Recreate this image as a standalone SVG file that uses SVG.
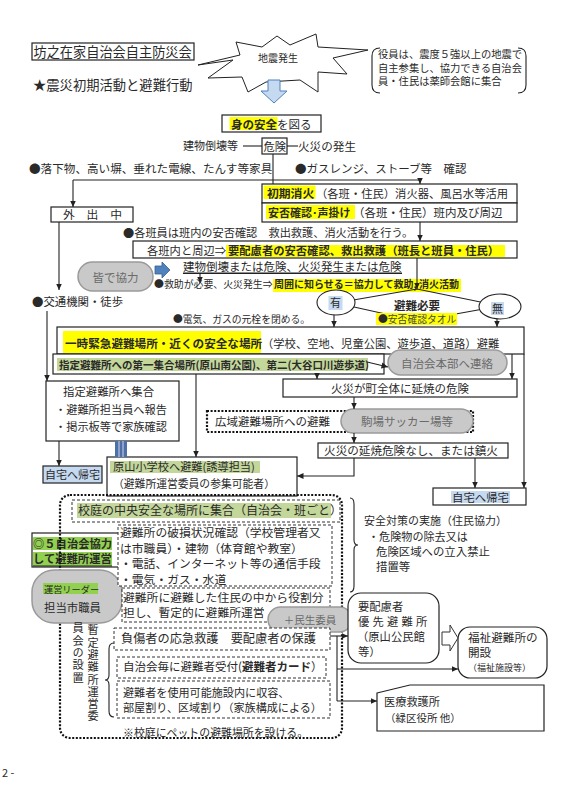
<svg xmlns="http://www.w3.org/2000/svg" width="570" height="799" viewBox="0 0 570 799">
<defs>
<style>
text { font-family: "Noto Sans CJK JP", "Noto Sans CJK SC", sans-serif; fill: #2a2a2a; }
.b { font-weight: bold; }
.gt { fill: #6a6a6a; }
.vt { writing-mode: vertical-rl; }
.box { fill: #fff; stroke: #222; stroke-width: 1.2; }
.dash { fill: #fff; stroke: #333; stroke-width: 1; stroke-dasharray: 3 2; }
.dot { fill: none; stroke: #111; stroke-width: 2.2; stroke-dasharray: 2 1.6; }
.pill { fill: #c9c9c9; stroke: #9a9a9a; stroke-width: 1.5; }
.ln { stroke: #222; stroke-width: 1.1; fill: none; }
.arr { marker-end: url(#ah); }
.yl { fill: #ffff00; }
.gr { fill: #c4d79b; }
.gg { fill: #92d050; }
.bl { fill: #c5d9f1; }
</style>
<marker id="ah" markerWidth="7" markerHeight="7" refX="6.5" refY="3.5" orient="auto" markerUnits="userSpaceOnUse">
<path d="M0,0.5 L6.5,3.5 L0,6.5 z" fill="#222"/>
</marker>
</defs>
<rect width="570" height="799" fill="#fff"/>

<g id="title">
<rect x="32" y="43" width="162" height="17" fill="#fff" stroke="#222" stroke-width="1.2"/>
<text x="33.5" y="56.5" font-size="13.2">坊之在家自治会自主防災会</text>
<text x="33" y="90" font-size="13.3">★震災初期活動と避難行動</text>
</g>

<g id="quake">
<polygon points="198,65 233,60 208,78 242,77 248,92 266,82 300,80 318,92 318,72 347,74 333,58 368,50 318,47 316,34 290,45 277,36 262,47 236,42 240,55" fill="#fff" stroke="#222" stroke-width="1"/>
<text x="258" y="62" font-size="10">地震発生</text>
<polygon points="268,80 280,80 280,91 287,91 274,103 261,91 268,91" fill="#c5d9f1" stroke="#4f81bd" stroke-width="1"/>
</g>

<g id="callout">
<path d="M380,48 Q372,48 372,56 L372,85 Q372,93 380,93" class="ln" stroke-width="1.3"/>
<path d="M518,48 Q526,48 526,56 L526,85 Q526,93 518,93" class="ln" stroke-width="1.3"/>
<text x="378" y="58" font-size="10.3">役員は、震度５強以上の地震で</text>
<text x="378" y="71.5" font-size="10.3">自主参集し、協力できる自治会</text>
<text x="378" y="85" font-size="10.3">員・住民は薬師会館に集合</text>
</g>

<g id="n-safety">
<rect x="222" y="115" width="99" height="17" class="box"/>
<rect x="229.5" y="117" width="48" height="13" class="yl"/>
<text x="231" y="128.5" font-size="11.5" class="b">身の安全<tspan font-weight="normal">を図る</tspan></text>
</g>

<g id="n-danger">
<text x="183" y="150" font-size="11">建物倒壊等</text>
<rect x="262" y="138" width="25" height="16" class="box"/>
<text x="263.5" y="150.5" font-size="11.3">危険</text>
<text x="298" y="150.5" font-size="11.6">火災の発生</text>
</g>

<g id="notes-top">
<text x="29" y="172.5" font-size="11.6">●落下物、高い塀、垂れた電線、たんす等家具</text>
<text x="295" y="172.5" font-size="11.5">●ガスレンジ、ストーブ等　確認</text>
</g>

<g id="n-firstaid">
<rect x="262" y="184" width="255" height="19" class="box"/>
<rect x="262" y="203" width="255" height="19" class="box"/>
<rect x="263.5" y="185.5" width="52" height="13.5" class="yl"/>
<text x="267" y="197.5" font-size="11.8" class="b">初期消火</text>
<text x="316" y="197.5" font-size="11.3">（各班・住民）消火器、風呂水等活用</text>
<rect x="266" y="205" width="89" height="14" class="yl"/>
<text x="268" y="216.5" font-size="11" class="b">安否確認･声掛け</text>
<text x="353" y="216.5" font-size="11.5">（各班・住民）班内及び周辺</text>
</g>

<g id="n-out">
<rect x="51" y="207" width="82" height="15" class="box"/>
<text x="63" y="219" font-size="11.8">外　出　中</text>
</g>

<text x="123" y="236.5" font-size="11.2">●各班員は班内の安否確認　救出救護、消火活動を行う。</text>

<g id="n-care">
<rect x="133" y="241" width="384" height="17" class="box"/>
<rect x="226" y="245" width="279" height="12" class="yl"/>
<text x="147" y="254.5" font-size="11.3">各班内と周辺⇒</text>
<text x="228" y="254.5" font-size="11.3" class="b">要配慮者の安否確認、救出救護（班長と班員・住民）</text>
</g>

<g id="n-coop">
<rect x="78" y="262" width="75" height="29" rx="14.5" class="pill"/>
<text x="115.5" y="281.5" font-size="11.5" text-anchor="middle" class="gt">皆で協力</text>
<polygon points="155,266 162,266 162,262 170,270 162,278 162,274 155,274" fill="#4f81bd" stroke="#385d8a" stroke-width="0.8"/>
</g>

<g id="notes-mid">
<text x="183" y="270.5" font-size="11.5">建物倒壊または危険、火災発生または危険</text>
<line x1="183" y1="273.2" x2="402" y2="273.2" stroke="#222" stroke-width="1.6"/>
<text x="154" y="287.5" font-size="9.9">●救助が必要、火災発生⇒</text>
<rect x="273" y="279" width="188" height="13" class="yl"/>
<text x="274" y="288" font-size="10" class="b">周囲に知らせる＝協力して救助, 消火活動</text>
<text x="173" y="322.5" font-size="9.8">●電気、ガスの元栓を閉める。</text>
<text x="32" y="306" font-size="11.4">●交通機関・徒歩</text>
</g>

<g id="n-decision">
<polygon points="336,303 417,289 500,306 417,321" class="ln"/>
<ellipse cx="336" cy="302.5" rx="19" ry="12.5" fill="#fff" stroke="#222" stroke-width="1.1"/>
<ellipse cx="500" cy="306.5" rx="21" ry="12.5" fill="#fff" stroke="#222" stroke-width="1.1"/>
<rect x="328.5" y="296" width="14" height="14" class="bl"/>
<text x="335.5" y="307" font-size="11" text-anchor="middle">有</text>
<rect x="491" y="302" width="13" height="13" class="bl"/>
<text x="497.5" y="312.5" font-size="11" text-anchor="middle">無</text>
<text x="417" y="310" font-size="11.5" text-anchor="middle" class="b">避難必要</text>
<rect x="376" y="313" width="81" height="12" class="yl"/>
<text x="378" y="323" font-size="9.8">●<tspan fill="#444">安否確認タオル</tspan></text>
</g>

<g id="n-temp">
<rect x="57" y="327" width="467" height="27" class="box"/>
<rect x="63" y="331" width="198" height="22" class="yl"/>
<text x="65" y="347.5" font-size="11.6" class="b">一時緊急避難場所・近くの安全な場所</text>
<text x="262" y="347.5" font-size="11.3">（学校、空地、児童公園、遊歩道、道路）避難</text>
</g>

<g id="n-gather">
<rect x="53" y="354" width="331" height="20" class="box"/>
<rect x="57" y="358" width="311" height="13" class="gr"/>
<text x="59" y="368.5" font-size="10.5" class="b">指定避難所への第一集合場所(原山南公園)、第二(大谷口川遊歩道)</text>
</g>

<g id="n-hq">
<rect x="388" y="350" width="119" height="25" rx="12.5" class="pill"/>
<text x="447" y="367.5" font-size="11.5" text-anchor="middle" class="gt">自治会本部へ連絡</text>
</g>

<g id="n-fire">
<rect x="283" y="379" width="234" height="18" class="box"/>
<text x="400" y="392.5" font-size="11.5" text-anchor="middle">火災が町全体に延焼の危険</text>
</g>

<g id="n-wide">
<rect x="207" y="411" width="266" height="21" fill="#fff" class="dot"/>
<text x="215" y="425.5" font-size="11.5">広域避難場所への避難</text>
<rect x="341" y="409" width="132" height="24" rx="12" class="pill"/>
<text x="407" y="426" font-size="11.5" text-anchor="middle" class="gt">駒場サッカー場等</text>
</g>

<g id="n-nofire">
<rect x="318" y="443" width="190" height="15" class="box"/>
<text x="411" y="455" font-size="11.6" text-anchor="middle">火災の延焼危険なし、または鎮火</text>
</g>

<g id="n-home2">
<rect x="433" y="488" width="93" height="17" class="box"/>
<rect x="451" y="491" width="59" height="12" class="bl"/>
<text x="452" y="501.5" font-size="11.4">自宅へ帰宅</text>
</g>

<g id="n-designated">
<rect x="46" y="381" width="133" height="60" class="box"/>
<text x="63" y="396" font-size="11.4">指定避難所へ集合</text>
<text x="55" y="414" font-size="11.2">・避難所担当員へ報告</text>
<text x="55" y="430.5" font-size="11.2">・掲示板等で家族確認</text>
</g>

<g id="n-home1">
<rect x="43" y="466" width="59" height="17" fill="#c5d9f1" stroke="#222" stroke-width="1.2"/>
<text x="45" y="479" font-size="11">自宅へ帰宅</text>
</g>

<g id="n-school">
<rect x="107" y="457" width="190" height="39" class="box"/>
<rect x="110" y="461" width="150" height="12" class="gr"/>
<text x="113" y="471" font-size="11.2">原山小学校へ避難(誘導担当)</text>
<text x="113" y="488" font-size="10.8">（避難所運営委員の参集可能者）</text>
</g>

<g id="n-assemble">
<rect x="72" y="500" width="268" height="22" class="dash"/>
<rect x="77" y="503" width="254" height="15" class="gr"/>
<text x="78" y="515" font-size="12">校庭の中央安全な場所に集合（自治会・班ごと）</text>
</g>

<g id="n-five">
<rect x="32" y="533" width="90" height="34" class="box"/>
<rect x="33" y="537" width="79" height="13" class="gg"/>
<rect x="33" y="552" width="79" height="14" class="gg"/>
<text x="33" y="547.5" font-size="11.3" class="b">◎５自治会協力</text>
<text x="33" y="563" font-size="11.3" class="b">して避難所運営</text>
<line x1="33" y1="566" x2="112" y2="566" stroke="#222" stroke-width="1"/>
</g>

<g id="n-ops-frame">
<rect x="60" y="495" width="282" height="243" rx="10" class="dot"/>
</g>

<g id="n-leader">
<rect x="32" y="570" width="90" height="53" rx="22" class="pill"/>
<rect x="43" y="583" width="55" height="11" class="gg"/>
<text x="44" y="592.5" font-size="9.2" fill="#333">運営リーダー</text>
<text x="44" y="611.5" font-size="11.4" fill="#444">担当市職員</text>
</g>

<g id="n-check">
<rect x="118" y="525" width="214" height="61" class="dash"/>
<text x="120" y="537" font-size="11.8">避難所の破損状況確認（学校管理者又</text>
<text x="120" y="552.5" font-size="11.8">は市職員）・建物（体育館や教室）</text>
<text x="120" y="568" font-size="11.8">・電話、インターネット等の通信手段</text>
<text x="120" y="583.5" font-size="11.8">・電気・ガス・水道</text>
</g>

<g id="n-roles">
<rect x="122" y="588" width="208" height="34" class="dash"/>
<text x="123" y="601.5" font-size="11.8">避難所に避難した住民の中から役割分</text>
<text x="123" y="617" font-size="11.8">担し、暫定的に避難所運営</text>
</g>

<g id="n-minsei">
<rect x="268" y="607" width="84" height="25" rx="12.5" class="pill"/>
<text x="310" y="624" font-size="10.5" text-anchor="middle" class="gt">＋民生委員</text>
</g>

<g id="n-committee">
<text x="93" y="624.5" font-size="11.2" letter-spacing="1.1" fill="#444" class="vt">暫定避難所運営委</text>
<text x="78" y="622.5" font-size="11.2" letter-spacing="1.1" fill="#444" class="vt">員会の設置</text>
<path d="M114,643 Q109,643 109,649 L109,675 Q109,680 105,680 Q109,680 109,685 L109,711 Q109,717 114,717" class="ln"/>
</g>

<g id="n-firstaid2">
<rect x="114" y="628" width="216" height="22" class="dash"/>
<text x="121" y="643" font-size="12.2">負傷者の応急救護　要配慮者の保護</text>
</g>

<g id="n-reception">
<rect x="117" y="657" width="209" height="21" class="dash"/>
<text x="123" y="671" font-size="11.5">自治会毎に避難者受付(<tspan class="b">避難者カード</tspan>）</text>
</g>

<g id="n-rooms">
<rect x="117" y="681" width="213" height="37" class="dash"/>
<text x="123" y="696.5" font-size="11.1">避難者を使用可能施設内に収容、</text>
<text x="123" y="712" font-size="11.1">部屋割り、区域割り（家族構成による）</text>
</g>

<text x="123" y="737" font-size="10.9">※校庭にペットの避難場所を設ける。</text>

<g id="n-measures">
<path d="M350,498 Q354,498 354,504 L354,540 Q354,545 358,545 Q354,545 354,550 L354,586 Q354,592 350,592" class="ln"/>
<text x="364" y="525" font-size="11">安全対策の実施（住民協力）</text>
<text x="368" y="540.5" font-size="11.1">・危険物の除去又は</text>
<text x="376" y="556" font-size="11.4">危険区域への立入禁止</text>
<text x="376" y="571" font-size="11.4">措置等</text>
</g>

<g id="n-priority">
<rect x="348" y="593" width="91" height="70" rx="13" class="box"/>
<text x="358" y="611" font-size="11.3">要配慮者</text>
<text x="358" y="626" font-size="11.3" letter-spacing="3.2">優先避難所</text>
<text x="357" y="641" font-size="11.3">（原山公民館</text>
<text x="358" y="656" font-size="11.3">等）</text>
</g>

<g id="n-welfare">
<rect x="458" y="627" width="89" height="51" rx="12" class="box"/>
<text x="468" y="641.5" font-size="11.6">福祉避難所の</text>
<text x="468" y="657" font-size="11.6">開設</text>
<text x="468" y="671" font-size="9">（福祉施設等）</text>
</g>

<g id="n-medical">
<polygon points="377,693 410,685 544,685 544,731 377,731" class="box"/>
<text x="384" y="706" font-size="11.2">医療救護所</text>
<text x="385" y="722" font-size="10.5">（緑区役所 他）</text>
</g>

<g id="connectors">
<line x1="243" y1="146" x2="262" y2="146" class="ln"/>
<line x1="287" y1="146" x2="298" y2="146" class="ln"/>
<line x1="273" y1="154" x2="273" y2="184" class="ln"/>
<line x1="73" y1="180" x2="420" y2="180" class="ln"/>
<line x1="420" y1="180" x2="420" y2="184" class="ln arr"/>
<line x1="73" y1="180" x2="73" y2="207" class="ln arr"/>
<line x1="420" y1="222" x2="420" y2="241" class="ln arr"/>
<line x1="59" y1="222" x2="59" y2="290" class="ln arr"/>
<line x1="200" y1="273" x2="200" y2="283" class="ln arr"/>
<line x1="417" y1="258" x2="417" y2="289" class="ln arr"/>
<line x1="334" y1="315" x2="334" y2="327" class="ln arr"/>
<line x1="497" y1="319" x2="497" y2="327" class="ln arr"/>
<line x1="47" y1="311" x2="47" y2="381" class="ln arr"/>
<line x1="59" y1="441" x2="59" y2="466" class="ln arr"/>
<line x1="196" y1="374" x2="196" y2="457" class="ln arr"/>
<line x1="317" y1="374" x2="317" y2="379" class="ln arr"/>
<line x1="367" y1="362" x2="388" y2="367" class="ln arr"/>
<line x1="512" y1="354" x2="512" y2="379" class="ln arr"/>
<line x1="524" y1="354" x2="524" y2="488" class="ln arr"/>
<line x1="354" y1="397" x2="354" y2="409" class="ln arr"/>
<line x1="354" y1="433" x2="354" y2="443" class="ln arr"/>
<path d="M354,458 V476 H297" class="ln arr"/>
<line x1="475" y1="458" x2="475" y2="488" class="ln arr"/>
<rect x="115" y="441" width="12" height="16" fill="#4f6fa8"/>
<line x1="119" y1="441" x2="119" y2="457" stroke="#b8c6e0" stroke-width="1.2"/>
<line x1="123" y1="441" x2="123" y2="457" stroke="#b8c6e0" stroke-width="1.2"/>
<line x1="330" y1="636" x2="348" y2="636" class="ln arr"/>
<line x1="337" y1="636" x2="337" y2="701" class="ln"/>
<line x1="337" y1="669" x2="458" y2="669" class="ln arr"/>
<line x1="337" y1="701" x2="377" y2="701" class="ln arr"/>
<polygon points="442,632 450,632 450,625 458,638 450,651 450,645 442,645" fill="#fff" stroke="#333" stroke-width="1"/>
</g>

<text x="2" y="777" font-size="11">2 -</text>
</svg>
